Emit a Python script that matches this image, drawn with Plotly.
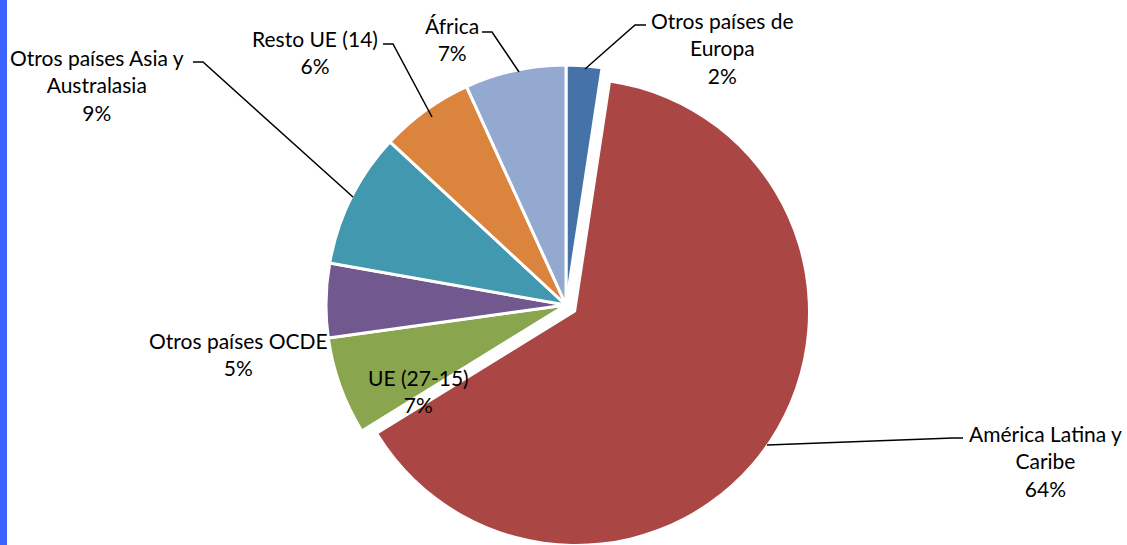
import plotly.graph_objects as go

# ---------------- data ----------------
categories = ["Otros países de Europa", "América Latina y Caribe", "UE (27-15)",
              "Otros países OCDE", "Otros países Asia y Australasia",
              "Resto UE (14)", "África"]
label_text = ["Otros países de<br>Europa", "América Latina y<br>Caribe", "UE (27-15)",
              "Otros países OCDE", "Otros países Asia y<br>Australasia",
              "Resto UE (14)", "África"]
shares = [2.4, 63.8, 6.6, 5.0, 9.1, 6.3, 6.8]
colors = ["#4572A7", "#AA4643", "#89A54E", "#71588F", "#4198AF", "#DB843D", "#93A9CF"]
exploded = "América Latina y Caribe"

# ---------------- layout helpers (pixels -> paper) ----------------
W, H = 1127, 545
def px(x):
    return x / W
def py(y):
    return 1 - y / H
def dom(cx, cy, r):
    y0 = max(0.0, py(cy + r))
    y1 = min(1.0, py(cy - r))
    return dict(x=[px(cx - r), px(cx + r)], y=[y0, y1])

# label block centres and leader lines (layout, pixels)
label_pos = {
    "Otros países de Europa": (722, 48),
    "América Latina y Caribe": (1045, 461),
    "UE (27-15)": (418, 391),
    "Otros países OCDE": (238, 354),
    "Otros países Asia y Australasia": (97, 85),
    "Resto UE (14)": (315, 52),
    "África": (452, 39),
}
leaders = {
    "Otros países de Europa": [(646, 25), (635, 25), (585, 69)],
    "América Latina y Caribe": [(963, 438), (953, 438), (767, 445)],
    "Otros países Asia y Australasia": [(193, 62), (203, 62), (353, 197)],
    "Resto UE (14)": [(383, 44), (393, 44), (432, 117)],
    "África": [(482, 32), (492, 32), (519, 72)],
}

idx_ex = categories.index(exploded)
transparent = "rgba(0,0,0,0)"

main_colors = [transparent if i == idx_ex else c for i, c in enumerate(colors)]
main_lw = [0 if i == idx_ex else 3 for i in range(len(categories))]
ex_colors = [c if i == idx_ex else transparent for i, c in enumerate(colors)]
ex_lw = [0] * len(categories)

fig = go.Figure()
# exploded slice
fig.add_trace(go.Pie(
    labels=categories, values=shares, sort=False, direction="clockwise", rotation=0,
    marker=dict(colors=ex_colors, line=dict(color="white", width=ex_lw)),
    textinfo="none", hoverinfo="skip", showlegend=False,
    domain=dom(576, 312, 232),
))
# remaining slices
fig.add_trace(go.Pie(
    labels=categories, values=shares, sort=False, direction="clockwise", rotation=0,
    marker=dict(colors=main_colors, line=dict(color="white", width=main_lw)),
    textinfo="none", hovertemplate="%{label}: %{percent}<extra></extra>", showlegend=False,
    domain=dom(566, 305, 240),
))

total = sum(shares)
font = dict(family="Lato, Calibri, Carlito, sans-serif", size=21, color="#000000")
for cat, txt, v in zip(categories, label_text, shares):
    x, y = label_pos[cat]
    fig.add_annotation(x=px(x), y=py(y), xref="paper", yref="paper",
                       text=f"{txt}<br>{round(v / total * 100):.0f}%",
                       showarrow=False, xanchor="center", yanchor="middle",
                       align="center", font=font)

for cat, pts in leaders.items():
    path = "M " + " L ".join(f"{px(a)},{py(b)}" for a, b in pts)
    fig.add_shape(type="path", path=path, xref="paper", yref="paper",
                  line=dict(color="black", width=1.5))

# blue edge bar at the left
fig.add_shape(type="rect", xref="paper", yref="paper", x0=0, x1=px(7), y0=0, y1=1,
              fillcolor="#3A63FF", line=dict(width=0), layer="above")

fig.update_layout(
    width=W, height=H, margin=dict(l=0, r=0, t=0, b=0),
    paper_bgcolor="white", plot_bgcolor="white", showlegend=False,
)

fig.write_html("out.html",
               config={"displayModeBar": False},
               post_script="document.body.style.margin='0px';document.body.style.overflow='hidden';")
